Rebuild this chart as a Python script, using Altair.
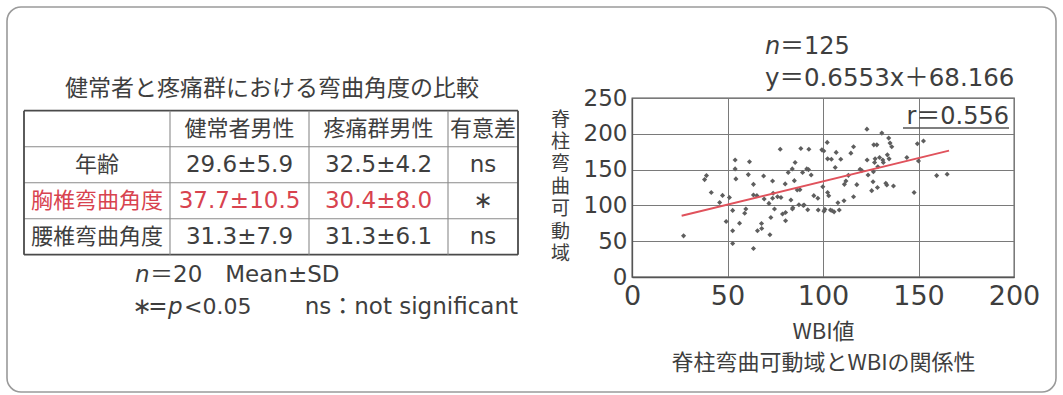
import altair as alt
import pandas as pd

# ---------------- data ----------------
wbi = [27, 38, 39, 41.5, 45.9, 47.4, 49.3, 51, 52.7, 52.7, 52.7, 54, 54, 54.4, 56.3, 59.6, 59,
       60.9, 61.5, 63.6, 63.6, 63.6, 65.4, 65.7, 67.8, 67.9, 68.9, 69.2, 71.7, 72.2, 72.7, 73.6,
       73.9, 73.6, 74.6, 76.2, 77.6, 78, 78.8, 80.2, 80.4, 80.4, 81.8, 83.2, 83.9, 85, 85.4, 84.2,
       86.5, 87.4, 87.9, 88.4, 89.3, 90.1, 91.5, 92.4, 92, 92.6, 93.8, 95.2, 97.5, 97.3, 99.4,
       99.9, 100.4, 101, 102.2, 102.4, 102.4, 103, 103.9, 104.8, 104.4, 106.4, 106.9, 107.8,
       108.5, 109.3, 111, 111.2, 112, 113.3, 114.6, 116, 116, 117.7, 119.4, 120.3, 123, 123.1,
       123.6, 125.5, 126.2, 126.4, 126.6, 127, 127.3, 128.2, 128.5, 128.7, 129.6, 130.8, 131.3,
       131.6, 132.9, 133.4, 133.7, 134.4, 134.6, 135.1, 136, 136.9, 143.9, 147.7, 149.4, 150,
       152.6, 159.5, 165, 84, 89.7, 100.5, 105.8]
rom = [57.5, 136, 141.6, 118, 104, 114, 77.6, 111, 93, 64.5, 46.7, 163.5, 151, 137, 75, 95, 89,
       143, 161, 129.4, 114.5, 39.7, 113.6, 64.5, 74.8, 67.8, 141, 109, 102.8, 59, 83, 134,
       117, 110, 95, 112, 178.5, 111, 88, 130, 90, 78.5, 146, 107.5, 151, 134.6, 160, 96.7,
       121.5, 101, 122, 179.4, 146, 100.5, 151, 150, 94, 178.5, 142.5, 113.6, 93.5, 110, 177.6,
       126, 176, 94.4, 188, 165, 118, 113.5, 93.5, 92.5, 164.5, 153, 174, 103.7,
       93.5, 164.5, 106.5, 129.4, 134, 142, 173, 182, 112, 129, 150.5, 148.6, 206.5, 163.5,
       142.5, 120.6, 133, 147, 184.6, 160, 165, 184.6, 125, 154, 167, 201, 163.5,
       160, 131, 128.5, 170.6, 194, 165, 187, 182, 127, 167, 118, 186, 162,
       190, 141.6, 143.5, 95, 100, 92, 91]
fit_x = [26, 166]
fit_y = [85.5, 176.5]
x_ticks = [0, 50, 100, 150, 200]
y_ticks = [0, 50, 100, 150, 200, 250]

table_title = "健常者と疼痛群における弯曲角度の比較"
col_headers = ["健常者男性", "疼痛群男性", "有意差"]
row_labels = ["年齢", "胸椎弯曲角度", "腰椎弯曲角度"]
healthy = ["29.6±5.9", "37.7±10.5", "31.3±7.9"]
pain = ["32.5±4.2", "30.4±8.0", "31.3±6.1"]
signif = ["ns", "∗", "ns"]
highlight_row = "胸椎弯曲角度"

# ---------------- layout / style ----------------
PL, PT, PR, PB = 632, 98, 49, 118      # padding around the scatter plot area
PW, PH = 382, 179
LAT = "DejaVu Sans, Noto Sans CJK JP"
JP = "Noto Sans CJK JP, DejaVu Sans"
TXT = "#3e3e3e"
RED = "#d8434f"

TABLE_L, TABLE_T = 24, 110.7
COL_W = [146, 139, 139, 70]
ROW_H = 36
TW = sum(COL_W)
NR = 4
edges = [sum(COL_W[:i]) for i in range(len(COL_W) + 1)]
centers = [(edges[i] + edges[i + 1]) / 2 for i in range(len(COL_W))]

tx = alt.Scale(domain=[0, TW], range=[TABLE_L - PL, TABLE_L + TW - PL], nice=False, zero=False)
ty = alt.Scale(domain=[0, NR], range=[TABLE_T - PT, TABLE_T + NR * ROW_H - PT], nice=False, zero=False)

# table cell text
jp_cells, num_cells = [], []
for c, h in enumerate(col_headers):
    jp_cells.append({"x": centers[c + 1], "y": 0.5, "t": h, "col": TXT})
for r, lab in enumerate(row_labels):
    colr = RED if lab == highlight_row else TXT
    jp_cells.append({"x": centers[0], "y": r + 1.5, "t": lab, "col": colr})
    num_cells.append({"x": centers[1], "y": r + 1.5, "t": healthy[r], "col": colr})
    num_cells.append({"x": centers[2], "y": r + 1.5, "t": pain[r], "col": colr})
    num_cells.append({"x": centers[3], "y": r + 1.5, "t": signif[r], "col": TXT})

lines = []
for k in range(NR + 1):
    outer = k in (0, NR)
    lines.append({"x": 0, "x2": TW, "y": k, "y2": k,
                  "c": "#4a4a4a" if outer else "#8a8a8a", "w": 1.8 if outer else 1.1})
for i, e in enumerate(edges):
    outer = i in (0, len(edges) - 1)
    lines.append({"x": e, "x2": e, "y": 0, "y2": NR,
                  "c": "#4a4a4a" if outer else "#8a8a8a", "w": 1.8 if outer else 1.1})

table_lines = alt.Chart(pd.DataFrame(lines)).mark_rule().encode(
    x=alt.X("x:Q", scale=tx, axis=None), x2="x2:Q",
    y=alt.Y("y:Q", scale=ty, axis=None), y2="y2:Q",
    color=alt.Color("c:N", scale=None), strokeWidth=alt.StrokeWidth("w:Q", scale=None))

table_jp = alt.Chart(pd.DataFrame(jp_cells)).mark_text(
    font=JP, fontSize=22, baseline="middle", align="center").encode(
    x=alt.X("x:Q", scale=tx, axis=None), y=alt.Y("y:Q", scale=ty, axis=None),
    text="t:N", color=alt.Color("col:N", scale=None))

table_num = alt.Chart(pd.DataFrame(num_cells)).mark_text(
    font=LAT, fontSize=23, baseline="middle", align="center").encode(
    x=alt.X("x:Q", scale=tx, axis=None), y=alt.Y("y:Q", scale=ty, axis=None),
    text="t:N", color=alt.Color("col:N", scale=None))

# ---------------- scatter ----------------
xs = alt.Scale(domain=[0, 200], nice=False, zero=False)
ys = alt.Scale(domain=[0, 250], nice=False, zero=False)

pts = alt.Chart(pd.DataFrame({"wbi": wbi, "rom": rom})).mark_point(
    shape="diamond", filled=True, size=26, color="#5e5e5e", opacity=1).encode(
    x=alt.X("wbi:Q", scale=xs, axis=alt.Axis(
        values=x_ticks, labelFont=LAT, labelFontSize=27, labelColor=TXT, ticks=False,
        labelPadding=6, labelFlush=False, grid=True, gridColor="#7a7a7a", gridWidth=1,
        domainColor="#555555", domainWidth=1.3,
        title=["WBI値", "脊柱弯曲可動域とWBIの関係性"], titleFont=JP, titleFontSize=22,
        titleFontWeight="normal", titleColor=TXT, titleLineHeight=31,
        titleX=191, titleY=61, titleAlign="center", titleBaseline="alphabetic")),
    y=alt.Y("rom:Q", scale=ys, axis=alt.Axis(
        values=y_ticks, labelFont=LAT, labelFontSize=23, labelColor=TXT, ticks=False,
        labelPadding=5, labelFlush=False, grid=True, gridColor="#7a7a7a", gridWidth=1,
        domainColor="#555555", domainWidth=1.3,
        title=list("脊柱弯曲可動域"), titleFont=JP, titleFontSize=19, titleFontWeight="normal",
        titleColor=TXT, titleAngle=0, titleLineHeight=22.4, titleX=-72, titleY=12,
        titleAlign="center", titleBaseline="top")))

fit = alt.Chart(pd.DataFrame({"wbi": fit_x, "rom": fit_y})).mark_line(
    color="#e0525c", strokeWidth=2).encode(
    x=alt.X("wbi:Q", scale=xs, axis=None), y=alt.Y("rom:Q", scale=ys, axis=None))


# ---------------- annotations ----------------
def label(txt, x, y, font=LAT, size=23, align="left", style="normal", color=TXT):
    return alt.Chart(alt.Data(values=[{"t": txt}])).mark_text(
        font=font, fontSize=size, align=align, baseline="middle", fontStyle=style,
        color=color).encode(x=alt.value(x - PL), y=alt.value(y - PT), text="t:N")


border = alt.Chart(alt.Data(values=[{}])).mark_rect(
    fillOpacity=0, stroke="#9a9a9a", strokeWidth=1.6, cornerRadius=14).encode(
    x=alt.value(7 - PL), x2=alt.value(1056 - PL), y=alt.value(7 - PT), y2=alt.value(392 - PT))

underline = alt.Chart(alt.Data(values=[{}])).mark_rule(color="#555555", strokeWidth=1.3).encode(
    x=alt.value(903 - PL), x2=alt.value(1009 - PL), y=alt.value(128 - PT))

annos = [
    label(table_title, 272, 89, font=JP, size=23, align="center"),
    label("n", 135, 275, style="italic"),
    label("＝20　Mean±SD", 150, 275),
    label("∗", 142, 307, align="center"),
    label("=", 158, 307, align="center"),
    label("p", 168, 307, style="italic"),
    label("<0.05", 184, 307, size=22),
    label("ns：not significant", 518, 307, align="right"),
    label("n", 765, 47, style="italic", size=24),
    label("＝125", 780, 47, size=24),
    label("y＝0.6553x＋68.166", 765, 79, size=24.5),
    label("r＝0.556", 1009, 117, size=24, align="right"),
]

chart = alt.layer(
    border, table_lines, table_jp, table_num, pts, fit, underline, *annos
).resolve_scale(x="independent", y="independent").properties(
    width=PW, height=PH,
    padding={"left": PL, "top": PT, "right": PR, "bottom": PB},
    autosize=alt.AutoSizeParams(type="none"),
    background="white",
).configure_view(stroke="#555555", strokeWidth=1.3)

chart.save("out.html", embed_options={"renderer": "svg", "actions": False})
